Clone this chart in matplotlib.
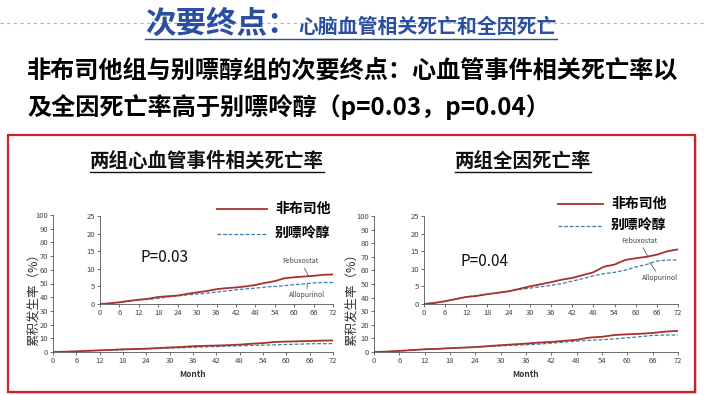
import matplotlib
matplotlib.use("Agg")
import matplotlib.pyplot as plt
from matplotlib.lines import Line2D
from matplotlib.patches import Rectangle

plt.rcParams['font.family'] = ['Noto Sans CJK SC', 'DejaVu Sans']

W, H = 707, 395

months = [0, 3, 6, 9, 12, 15, 18, 21, 24, 27, 30, 33, 36, 39, 42, 45, 48, 51, 54, 57, 60, 63, 66, 69, 72]
cv_febux = [0, 0.2, 0.5, 0.9, 1.2, 1.5, 2.0, 2.2, 2.4, 2.9, 3.3, 3.7, 4.2, 4.5, 4.7, 5.0, 5.4, 6.0, 6.5, 7.3, 7.6, 7.8, 8.0, 8.3, 8.4]
cv_allo = [0, 0.2, 0.4, 0.8, 1.2, 1.3, 1.6, 2.0, 2.3, 2.6, 2.8, 3.1, 3.4, 3.7, 4.0, 4.3, 4.5, 4.8, 5.0, 5.2, 5.5, 5.7, 6.0, 6.1, 6.1]
all_febux = [0, 0.3, 0.8, 1.4, 2.0, 2.3, 2.8, 3.2, 3.6, 4.3, 5.0, 5.6, 6.2, 6.9, 7.4, 8.2, 9.0, 10.6, 11.2, 12.5, 13.0, 13.4, 14.0, 15.0, 15.5]
all_allo = [0, 0.3, 0.8, 1.4, 2.0, 2.4, 2.8, 3.2, 3.6, 4.1, 4.5, 4.9, 5.3, 5.8, 6.5, 7.2, 8.0, 8.6, 9.0, 9.6, 10.5, 11.2, 12.2, 12.5, 12.5]

x_ticks = list(range(0, 73, 6))
main_yticks = list(range(0, 101, 10))
inset_yticks = list(range(0, 26, 5))

title_big = "次要终点："
title_small = "心脑血管相关死亡和全因死亡"
sub_line1 = "非布司他组与别嘌醇组的次要终点：心血管事件相关死亡率以"
sub_line2 = "及全因死亡率高于别嘌呤醇（p=0.03，p=0.04）"
panel_titles = ["两组心血管事件相关死亡率", "两组全因死亡率"]
legend_labels = ["非布司他", "别嘌呤醇"]
p_texts = ["P=0.03", "P=0.04"]
ylabel = "累积发生率（%）"

RED = "#a8322a"
BLUE = "#3d7ea6"
TITLE_BLUE = "#2a4f9e"

fig = plt.figure(figsize=(W / 100, H / 100), dpi=100)


def rect(x0, y0, x1, y1):
    # pixel box (top-left origin) -> figure fraction
    return [x0 / W, 1 - y1 / H, (x1 - x0) / W, (y1 - y0) / H]


def fx(x):
    return x / W


def fy(y):
    return 1 - y / H


# dashed rule behind the title
fig.add_artist(Line2D([0, 1], [fy(23), fy(23)], color="#b5b5b5", lw=0.8, ls=(0, (3, 3)), zorder=-3))

# red frame with light shadow (kept below the axes)
fig.add_artist(Rectangle((fx(10), fy(394)), (687 / W), (257 / H), fc="#d8d8d8", ec="none", zorder=-2))
fig.add_artist(Rectangle((fx(8), fy(392)), (687 / W), (257 / H), fc="white", ec="#d01f25", lw=1.6, zorder=-1))

fig.text(fx(145), fy(24), title_big, fontsize=22, fontweight="bold", color=TITLE_BLUE, va="center", ha="left")
fig.text(fx(298), fy(26), title_small, fontsize=14.3, fontweight="bold", color=TITLE_BLUE, va="center", ha="left")
fig.text(fx(27), fy(72), sub_line1, fontsize=17.4, fontweight="bold", color="black", va="center", ha="left")
fig.text(fx(27), fy(107), sub_line2, fontsize=17.4, fontweight="bold", color="black", va="center", ha="left")
fig.add_artist(Line2D([fx(145), fx(557)], [fy(39), fy(39)], color=TITLE_BLUE, lw=1.0))

panels = [
    dict(main=(53, 215, 333, 352), inset=(100, 216, 333, 304), febux=cv_febux, allo=cv_allo,
         title_x=207, ylab_x=33, leg_x=(217, 267), leg_y=(209, 234), p_xy=(140, 258),
         fe_txt=(62, 11.0), fe_pt=(64.5, 7.9), al_txt=(64, 1.3), al_pt=(64, 5.8)),
    dict(main=(374, 216, 678, 352), inset=(424, 216, 678, 304), febux=all_febux, allo=all_allo,
         title_x=523, ylab_x=351, leg_x=(558, 603), leg_y=(204, 226), p_xy=(460, 262),
         fe_txt=(61, 16.8), fe_pt=(63.5, 13.4), al_txt=(67, 6.3), al_pt=(64, 11.8)),
]

tick_kw = dict(labelsize=5.5, length=2, width=0.6, pad=1.5, colors="#555555", labelcolor="#444444")

for i, pn in enumerate(panels):
    ax = fig.add_axes(rect(*pn["main"]))
    ax.patch.set_alpha(0)
    ax.plot(months, pn["allo"], color=BLUE, lw=0.9, ls=(0, (3, 1.5)))
    ax.plot(months, pn["febux"], color=RED, lw=1.3)
    ax.set_xlim(0, 72)
    ax.set_ylim(0, 100)
    ax.set_xticks(x_ticks)
    ax.set_yticks(main_yticks)
    for s in ["top", "right"]:
        ax.spines[s].set_visible(False)
    for s in ["left", "bottom"]:
        ax.spines[s].set_linewidth(0.6)
        ax.spines[s].set_color("#555555")
    ax.tick_params(**tick_kw)
    ax.set_xlabel("Month", fontsize=6, fontweight="bold", color="#333333", labelpad=4)

    ins = fig.add_axes(rect(*pn["inset"]))
    ins.patch.set_alpha(0)
    ins.plot(months, pn["allo"], color=BLUE, lw=0.9, ls=(0, (3, 1.5)))
    ins.plot(months, pn["febux"], color=RED, lw=1.3)
    ins.set_xlim(0, 72)
    ins.set_ylim(0, 25)
    ins.set_xticks(x_ticks)
    ins.set_yticks(inset_yticks)
    for s in ["top", "right"]:
        ins.spines[s].set_visible(False)
    for s in ["left", "bottom"]:
        ins.spines[s].set_linewidth(0.6)
        ins.spines[s].set_color("#555555")
    ins.tick_params(**tick_kw)
    ins.annotate("Febuxostat", xy=pn["fe_pt"], xytext=pn["fe_txt"], fontsize=5, color="#444444",
                 ha="center", va="bottom", arrowprops=dict(arrowstyle="-", lw=0.5, color="#444444", shrinkA=0, shrinkB=0))
    ins.annotate("Allopurinol", xy=pn["al_pt"], xytext=pn["al_txt"], fontsize=5, color="#444444",
                 ha="center", va="bottom", arrowprops=dict(arrowstyle="-", lw=0.5, color="#444444", shrinkA=0, shrinkB=0))

    fig.text(fx(pn["title_x"]), fy(161), panel_titles[i], fontsize=14, fontweight="bold",
             ha="center", va="center", color="#111111")
    fig.text(fx(pn["ylab_x"]), fy(297), ylabel, fontsize=9, rotation=90, ha="center", va="center", color="#333333")

    lx0, lx1 = pn["leg_x"]
    ly0, ly1 = pn["leg_y"]
    fig.add_artist(Line2D([fx(lx0), fx(lx1)], [fy(ly0), fy(ly0)], color=RED, lw=1.3))
    fig.add_artist(Line2D([fx(lx0), fx(lx1)], [fy(ly1), fy(ly1)], color=BLUE, lw=0.9, ls=(0, (3, 1.5))))
    fig.text(fx(lx1 + 8), fy(ly0), legend_labels[0], fontsize=10, fontweight="bold", va="center", ha="left")
    fig.text(fx(lx1 + 8), fy(ly1), legend_labels[1], fontsize=10, fontweight="bold", va="center", ha="left")
    fig.text(fx(pn["p_xy"][0]), fy(pn["p_xy"][1]), p_texts[i], fontsize=11, va="center", ha="left", color="#111111")

# underlines for panel titles, measured from the rendered text
fig.canvas.draw()
r = fig.canvas.get_renderer()
for t in fig.texts:
    if t.get_text() in panel_titles:
        bb = t.get_window_extent(r)
        fig.add_artist(Line2D([bb.x0 / W, bb.x1 / W], [(bb.y0 - 1) / H, (bb.y0 - 1) / H], color="#111111", lw=1.0))

fig.savefig("out.png", dpi=100)
